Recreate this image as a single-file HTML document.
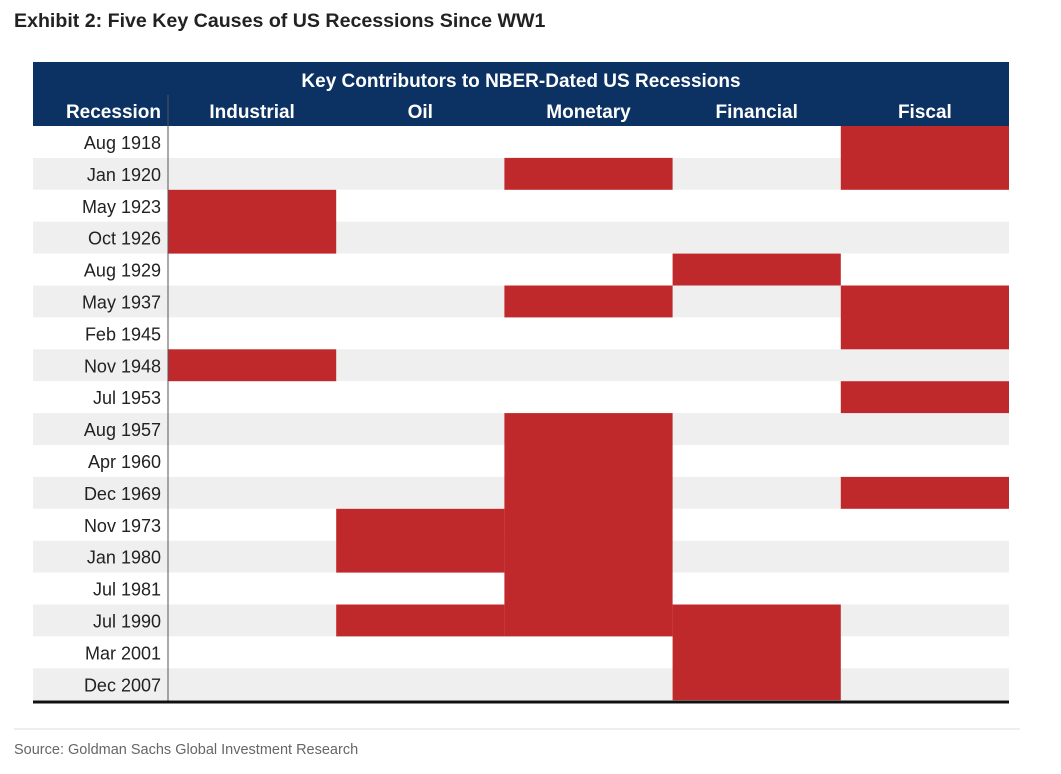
<!DOCTYPE html>
<html><head><meta charset="utf-8">
<style>
html,body{margin:0;padding:0;background:#fff;}
svg{display:block;}
text{font-family:"Liberation Sans",Arial,sans-serif;}
</style></head>
<body>
<svg id="chart" width="1061" height="774" viewBox="0 0 1061 774">
  <text x="14" y="27" font-size="19.6" font-weight="bold" fill="#222">Exhibit 2: Five Key Causes of US Recessions Since WW1</text>
  <rect x="33" y="62" width="976" height="64" fill="#0c3263"/>
  <text x="521" y="87" font-size="19" font-weight="bold" fill="#fff" text-anchor="middle">Key Contributors to NBER-Dated US Recessions</text>
  <text x="161" y="118" font-size="19" font-weight="bold" fill="#fff" text-anchor="end">Recession</text>
  <g id="rows"></g>
  <g id="cells"></g>
  <g id="heads"></g>
  <line x1="168" y1="95" x2="168" y2="702" stroke="#555" stroke-width="1"/>
  <line x1="33" y1="702" x2="1009" y2="702" stroke="#111" stroke-width="3"/>
  <line x1="14" y1="729" x2="1020" y2="729" stroke="#ddd" stroke-width="1"/>
  <text x="14" y="754" font-size="14.5" fill="#666">Source: Goldman Sachs Global Investment Research</text>
</svg>
<script>
const recessions = ["Aug 1918","Jan 1920","May 1923","Oct 1926","Aug 1929","May 1937","Feb 1945","Nov 1948","Jul 1953","Aug 1957","Apr 1960","Dec 1969","Nov 1973","Jan 1980","Jul 1981","Jul 1990","Mar 2001","Dec 2007"];
const causes = ["Industrial","Oil","Monetary","Financial","Fiscal"];
// 1 = contributor present; columns follow causes order
const industrial = [0,0,1,1,0,0,0,1,0,0,0,0,0,0,0,0,0,0];
const oil        = [0,0,0,0,0,0,0,0,0,0,0,0,1,1,0,1,0,0];
const monetary   = [0,1,0,0,0,1,0,0,0,1,1,1,1,1,1,1,0,0];
const financial  = [0,0,0,0,1,0,0,0,0,0,0,0,0,0,0,1,1,1];
const fiscal     = [1,1,0,0,0,1,1,0,1,0,0,1,0,0,0,0,0,0];
const matrix = [industrial, oil, monetary, financial, fiscal];

const NS = "http://www.w3.org/2000/svg";
const top0 = 126, rowH = 31.9, colX0 = 168, colW = 168.2, left = 33, right = 1009;
const yRow = i => top0 + i * rowH;
const xCol = j => colX0 + j * colW;
function mk(tag, attrs, parent){const e=document.createElementNS(NS,tag);for(const k in attrs)e.setAttribute(k,attrs[k]);parent.appendChild(e);return e;}

const rowsG = document.getElementById('rows');
recessions.forEach((r,i)=>{
  const bg = mk('rect',{x:left,y:yRow(i),width:right-left,height:rowH,fill:i%2?'#efefef':'#ffffff'},rowsG);
  
  
  const t = mk('text',{x:161,y:yRow(i)+23,'font-size':18,fill:'#222','text-anchor':'end'},rowsG);
  t.textContent = r;
  
  
});
const headG = document.getElementById('heads');
causes.forEach((c,j)=>{
  const t = mk('text',{x:xCol(j)+colW/2,y:118,'font-size':19,'font-weight':'bold',fill:'#fff','text-anchor':'middle'},headG);
  t.textContent = c;
  
  
});
const cellsG = document.getElementById('cells');
matrix.forEach((col,j)=>{
  let i=0;
  while(i<col.length){
    if(col[i]){
      let k=i; while(k+1<col.length && col[k+1]) k++;
      const c = mk('rect',{x:xCol(j),y:yRow(i),width:colW,height:(k-i+1)*rowH,fill:'#c0292b'},cellsG);
      
      
      i=k+1;
    } else i++;
  }
});
</script>
</body></html>
